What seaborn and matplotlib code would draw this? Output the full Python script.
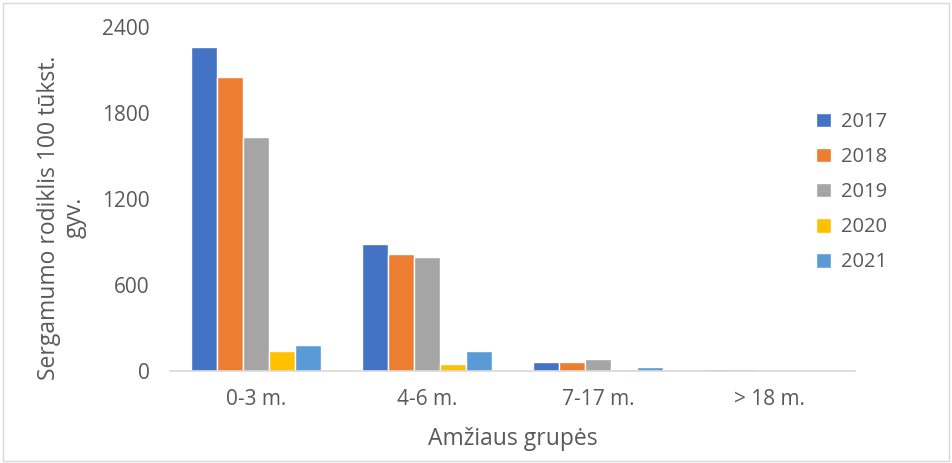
import matplotlib
matplotlib.use("Agg")
import matplotlib.pyplot as plt
import seaborn as sns
import pandas as pd
from matplotlib.patches import Rectangle

groups = ["0-3 m.", "4-6 m.", "7-17 m.", "> 18 m."]
years = ["2017", "2018", "2019", "2020", "2021"]
v2017 = [2260, 886, 63, 12]
v2018 = [2051, 816, 60, 10]
v2019 = [1633, 795, 84, 5]
v2020 = [140, 49, 10, 2]
v2021 = [181, 140, 25, 3]
colors = ["#4472C4", "#ED7D31", "#A5A5A5", "#FFC000", "#5B9BD5"]

rows = []
for y, vals in zip(years, [v2017, v2018, v2019, v2020, v2021]):
    for g, v in zip(groups, vals):
        rows.append({"grp": g, "year": y, "val": v})
df = pd.DataFrame(rows)

sns.set_theme(style="white")
plt.rcParams['font.family'] = ['Open Sans', 'DejaVu Sans']

fig = plt.figure(figsize=(9.52, 4.63), dpi=100)
ax = fig.add_axes([0.179, 0.199, 0.719, 0.743])
sns.barplot(data=df, x="grp", y="val", hue="year", palette=colors,
            order=groups, hue_order=years, width=0.76, saturation=1,
            ax=ax, legend=True)
ax.set_ylim(0, 2400)
ax.set_yticks([0, 600, 1200, 1800, 2400])
ax.set_xlim(-0.5, 3.5)
for s in ["top", "right", "left"]:
    ax.spines[s].set_visible(False)
ax.spines["bottom"].set_color("#D9D9D9")
ax.spines["bottom"].set_linewidth(1.2)
ax.tick_params(axis="y", length=0, labelsize=15, colors="#595959", pad=15)
ax.tick_params(axis="x", length=0, labelsize=15, colors="#595959", pad=13)
ax.set_xlabel("Amžiaus grupės", fontsize=16.5, color="#595959", labelpad=12)
ax.set_ylabel("Sergamumo rodiklis 100 tūkst.\ngyv.", fontsize=16.5, color="#595959",
              linespacing=1.1)
ax.yaxis.set_label_coords(-0.122, 0.445)
leg = ax.get_legend()
handles = leg.legend_handles
leg.remove()
fig.legend(handles, years, loc="center left", bbox_to_anchor=(0.838, 0.585), frameon=False,
           fontsize=14.5, labelcolor="#595959", handlelength=0.75, handleheight=0.75,
           labelspacing=0.75, handletextpad=0.5)
fig.patches.append(Rectangle((0.003, 0.004), 0.994, 0.99, transform=fig.transFigure,
                             fill=False, edgecolor="#D9D9D9", linewidth=1))
fig.savefig("out.png", dpi=100)
